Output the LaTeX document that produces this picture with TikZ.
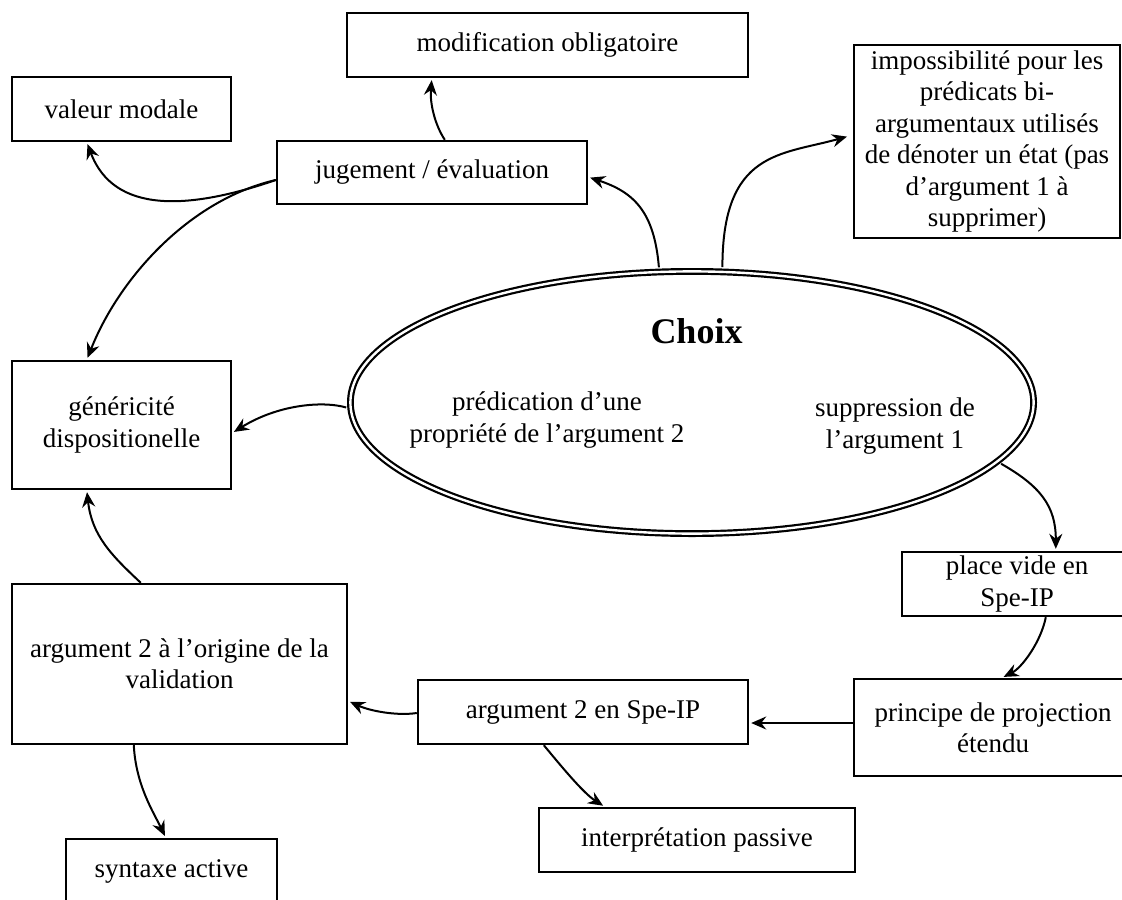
\documentclass[tikz,border=0pt]{standalone}
\usepackage{fontspec}
\setmainfont{Liberation Serif}
\usetikzlibrary{shapes.geometric,arrows.meta,calc}
\begin{document}
\begin{tikzpicture}[x=0.5pt,y=-0.5pt,
  box/.style={draw,line width=1.2pt,inner sep=0pt,align=center,font=\fontsize{13.5}{15.7}\selectfont},
  con/.style={line width=1pt,-{Stealth[length=7.5pt,width=6.5pt,inset=2.5pt]},shorten >=1pt},
  txt/.style={align=center,inner sep=0pt,font=\fontsize{13.5}{15.7}\selectfont}]
\useasboundingbox (0,0) rectangle (1122,899);
\clip (0,0) rectangle (1122,899);
% boxes
\node[box,minimum width=200.5pt,minimum height=32pt] (modif) at (547.5,45) {modification obligatoire};
\node[box,minimum width=109.5pt,minimum height=32pt] (valeur) at (121.5,109) {valeur modale};
\node[box,minimum width=155pt,minimum height=31.5pt] (jug) at (432,172.5) {jugement / évaluation};
\node[box,minimum width=133pt,minimum height=96.5pt] (imposs) at (987,141.5) {impossibilité pour les\\prédicats bi-\\argumentaux utilisés\\de dénoter un état (pas\\d’argument 1 à\\supprimer)};
\node[box,minimum width=109.5pt,minimum height=64pt] (gen) at (121.5,425) {généricité\\dispositionelle};
\node[box,minimum width=167.5pt,minimum height=80pt] (orig) at (179.5,664) {argument 2 à l’origine de la\\validation};
\node[box,minimum width=105.5pt,minimum height=32pt] (synt) at (171.5,871) {syntaxe active};
\node[box,minimum width=165pt,minimum height=32pt] (spe) at (583,712) {argument 2 en Spe-IP};
\node[box,minimum width=158pt,minimum height=32pt] (interp) at (697,840) {interprétation passive};
\node[box,minimum width=139pt,minimum height=48.5pt] (principe) at (993,727.5) {principe de projection\\étendu};
\node[box,minimum width=115pt,minimum height=32pt] (place) at (1017,584) {place vide en\\Spe-IP};
% ellipse
\node[ellipse,draw,double,line width=1.1pt,double distance=1.2pt,minimum width=341.6pt,minimum height=131.1pt,inner sep=0pt] (choix) at (692,402.5) {};
\node[font=\fontsize{18}{20}\selectfont\bfseries,anchor=base,inner sep=0pt] (choixlbl) at (696.5,343) {Choix};
\node[txt] (pred) at (547,420) {prédication d’une\\propriété de l’argument 2};
\node[txt] (supp) at (895,426) {suppression de\\l’argument 1};
% connectors
\draw[con] ($(jug.north west)+(169,0)$) .. controls +(-10,-15) and +(-2,25) .. ($(modif.south west)+(86,0)$);
\draw[con] ($(jug.west)+(0,7.5)$) .. controls +(-87,30) and +(27,72) .. ($(valeur.south west)+(76,0)$);
\draw[con] ($(jug.west)+(0,7.5)$) .. controls +(-87,20) and +(32,-81) .. ($(gen.north west)+(76,0)$);
\draw[con,shorten <=1.8pt] (choix.104) .. controls +(-5,-60) and +(45,15) .. ($(jug.east)+(0,4.5)$);
\draw[con,shorten <=1.8pt,shorten >=3pt] (choix.77) .. controls +(0,-120) and +(-72,20) .. ($(imposs.west)+(0,-6.5)$);
\draw[con,shorten <=1.8pt] (choix.181) .. controls +(-28,-8) and +(45,-28) .. ($(gen.east)+(0,8)$);
\draw[con,shorten <=1.8pt] (choix.349) .. controls +(42,24) and +(0,-45) .. ($(place.north west)+(155,0)$);
\draw[con] ($(place.south west)+(145,0)$) .. controls +(-5,25) and +(20,-10) .. ($(principe.north west)+(149,0)$);
\coordinate (p9) at ($(principe.west)+(0,-4.5)$);
\draw[con] (p9) -- (p9 -| spe.east);
\draw[con] ($(spe.west)+(0,1)$) .. controls +(-20,3) and +(22,10) .. ($(orig.east)+(0,37)$);
\draw[con] ($(spe.south west)+(127,0)$) .. controls +(15,18) and +(-22,-14) .. ($(interp.north west)+(67,0)$);
\draw[con] ($(orig.south west)+(123,0)$) .. controls +(2,40) and +(-12,-25) .. ($(synt.north west)+(101,0)$);
\draw[con] ($(orig.north west)+(130,0)$) .. controls +(-30,-28) and +(5,45) .. ($(gen.south west)+(76,0)$);
\end{tikzpicture}
\end{document}
